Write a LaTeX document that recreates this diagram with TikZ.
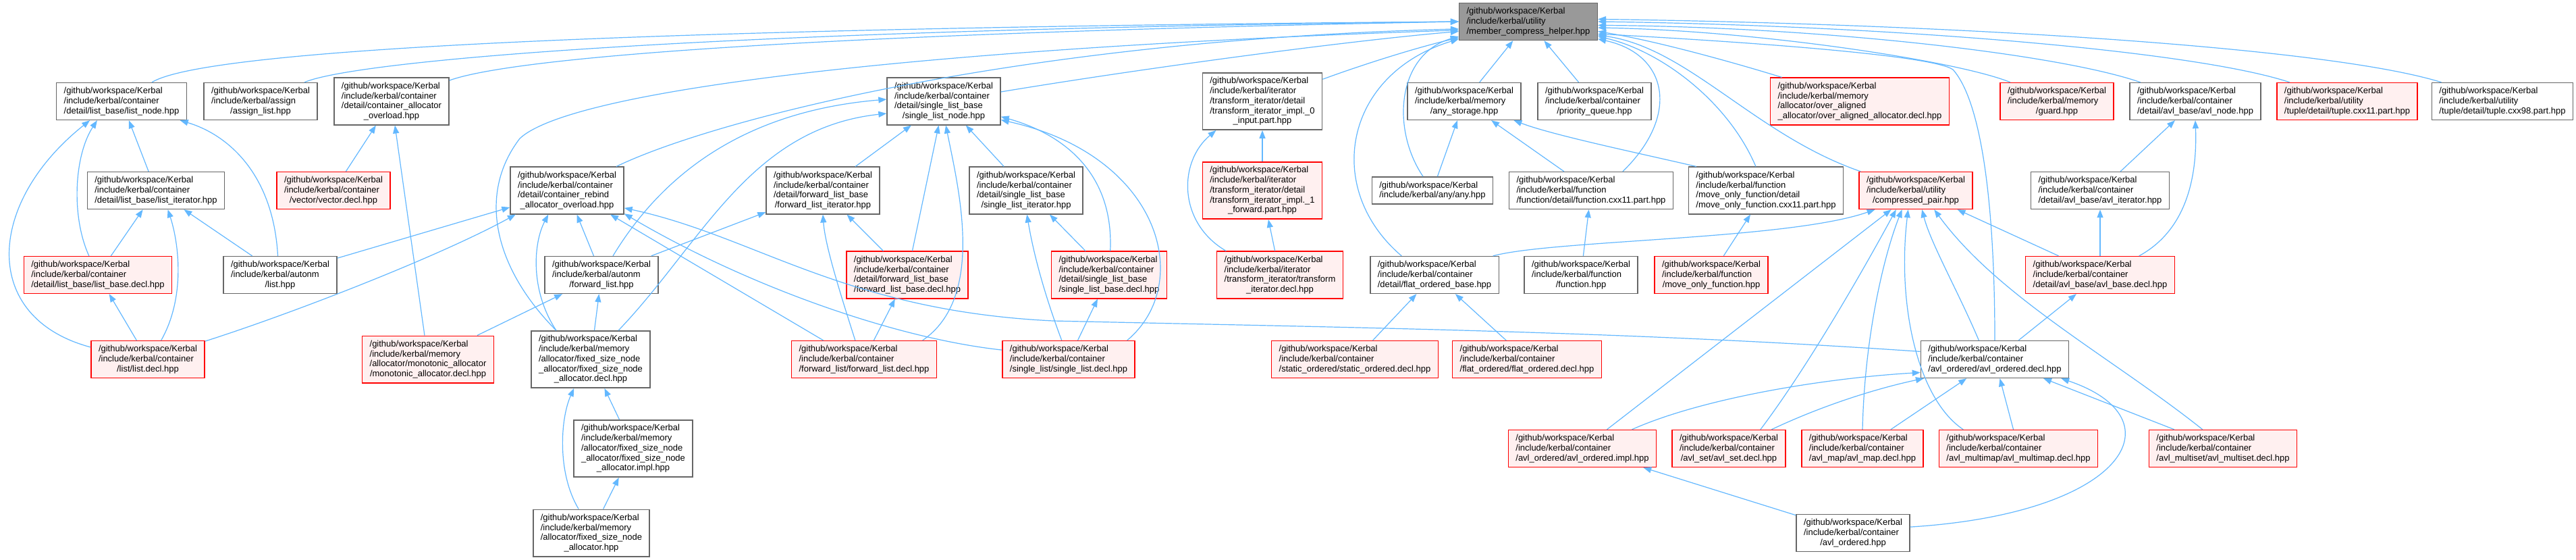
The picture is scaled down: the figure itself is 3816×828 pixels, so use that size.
\documentclass[tikz,border=0pt]{standalone}
\usepackage{fontspec}
\setmainfont{Liberation Sans}
\usepackage{tikz}
\usetikzlibrary{arrows.meta}
\definecolor{edgeblue}{HTML}{63B8FF}
\definecolor{boxgray}{HTML}{666666}
\definecolor{rootgray}{HTML}{999999}
\definecolor{truncfill}{HTML}{FFF0F0}
\newcommand{\lastln}[1]{\hfill#1\hfill\null}

\begin{document}
\begin{tikzpicture}[
        x=1pt, y=1pt,
        >={Triangle[length=12pt,width=9pt]},
        file/.style={
            rectangle,
            draw=boxgray,
            line width=1.4pt,
            fill=white,
            align=left,
            inner xsep=11pt,
            inner ysep=6.7pt,
            font=\fontsize{13}{14.7}\selectfont
        },
        trunc/.style={file, draw=red, fill=truncfill},
        root/.style={file, fill=rootgray},
        inc/.style={->, draw=edgeblue, line width=1.2pt}
    ]
        \path[use as bounding box, fill=white] (0,0) rectangle (3816,-828);

        \node[root] (helper) at (2264,-32) {/github/workspace/Kerbal\\/include/kerbal/utility\\\lastln{/member\_compress\_helper.hpp}};

        \node[file] (listnode) at (180,-150) {/github/workspace/Kerbal\\/include/kerbal/container\\\lastln{/detail/list\_base/list\_node.hpp}};
        \node[file] (assignlist) at (386,-150) {/github/workspace/Kerbal\\/include/kerbal/assign\\\lastln{/assign\_list.hpp}};
        \node[file] (allocoverload) at (580,-150) {/github/workspace/Kerbal\\/include/kerbal/container\\/detail/container\_allocator\\\lastln{\_overload.hpp}};
        \node[file] (slnode) at (1398,-150) {/github/workspace/Kerbal\\/include/kerbal/container\\/detail/single\_list\_base\\\lastln{/single\_list\_node.hpp}};
        \node[file] (tiinput) at (1870,-150) {/github/workspace/Kerbal\\/include/kerbal/iterator\\/transform\_iterator/detail\\/transform\_iterator\_impl.\_0\\\lastln{\_input.part.hpp}};
        \node[file] (anystorage) at (2169,-150) {/github/workspace/Kerbal\\/include/kerbal/memory\\\lastln{/any\_storage.hpp}};
        \node[file] (prioqueue) at (2362,-150) {/github/workspace/Kerbal\\/include/kerbal/container\\\lastln{/priority\_queue.hpp}};
        \node[trunc] (overaligned) at (2755,-150) {/github/workspace/Kerbal\\/include/kerbal/memory\\/allocator/over\_aligned\\\lastln{\_allocator/over\_aligned\_allocator.decl.hpp}};
        \node[trunc] (guard) at (3047,-150) {/github/workspace/Kerbal\\/include/kerbal/memory\\\lastln{/guard.hpp}};
        \node[file] (avlnode) at (3252,-150) {/github/workspace/Kerbal\\/include/kerbal/container\\\lastln{/detail/avl\_base/avl\_node.hpp}};
        \node[trunc] (tuple11) at (3477,-150) {/github/workspace/Kerbal\\/include/kerbal/utility\\\lastln{/tuple/detail/tuple.cxx11.part.hpp}};
        \node[file] (tuple98) at (3707,-150) {/github/workspace/Kerbal\\/include/kerbal/utility\\\lastln{/tuple/detail/tuple.cxx98.part.hpp}};

        \node[file] (listiter) at (231,-282) {/github/workspace/Kerbal\\/include/kerbal/container\\\lastln{/detail/list\_base/list\_iterator.hpp}};
        \node[trunc] (vectordecl) at (494,-282) {/github/workspace/Kerbal\\/include/kerbal/container\\\lastln{/vector/vector.decl.hpp}};
        \node[file] (rebind) at (840,-282) {/github/workspace/Kerbal\\/include/kerbal/container\\/detail/container\_rebind\\\lastln{\_allocator\_overload.hpp}};
        \node[file] (fliter) at (1219,-282) {/github/workspace/Kerbal\\/include/kerbal/container\\/detail/forward\_list\_base\\\lastln{/forward\_list\_iterator.hpp}};
        \node[file] (sliter) at (1520,-282) {/github/workspace/Kerbal\\/include/kerbal/container\\/detail/single\_list\_base\\\lastln{/single\_list\_iterator.hpp}};
        \node[trunc] (tiforward) at (1870,-282) {/github/workspace/Kerbal\\/include/kerbal/iterator\\/transform\_iterator/detail\\/transform\_iterator\_impl.\_1\\\lastln{\_forward.part.hpp}};
        \node[file] (any) at (2122,-282) {/github/workspace/Kerbal\\\lastln{/include/kerbal/any/any.hpp}};
        \node[file] (funccxx) at (2357,-282) {/github/workspace/Kerbal\\/include/kerbal/function\\\lastln{/function/detail/function.cxx11.part.hpp}};
        \node[file] (mofdetail) at (2616,-282) {/github/workspace/Kerbal\\/include/kerbal/function\\/move\_only\_function/detail\\\lastln{/move\_only\_function.cxx11.part.hpp}};
        \node[trunc] (cpair) at (2838,-282) {/github/workspace/Kerbal\\/include/kerbal/utility\\\lastln{/compressed\_pair.hpp}};
        \node[file] (avliter) at (3111,-282) {/github/workspace/Kerbal\\/include/kerbal/container\\\lastln{/detail/avl\_base/avl\_iterator.hpp}};

        \node[trunc] (listbase) at (145,-407) {/github/workspace/Kerbal\\/include/kerbal/container\\\lastln{/detail/list\_base/list\_base.decl.hpp}};
        \node[file] (autolist) at (415,-407) {/github/workspace/Kerbal\\/include/kerbal/autonm\\\lastln{/list.hpp}};
        \node[file] (autofl) at (891,-407) {/github/workspace/Kerbal\\/include/kerbal/autonm\\\lastln{/forward\_list.hpp}};
        \node[trunc] (flbase) at (1344,-407) {/github/workspace/Kerbal\\/include/kerbal/container\\/detail/forward\_list\_base\\\lastln{/forward\_list\_base.decl.hpp}};
        \node[trunc] (slbase) at (1643,-407) {/github/workspace/Kerbal\\/include/kerbal/container\\/detail/single\_list\_base\\\lastln{/single\_list\_base.decl.hpp}};
        \node[trunc] (tidecl) at (1896,-407) {/github/workspace/Kerbal\\/include/kerbal/iterator\\/transform\_iterator/transform\\\lastln{\_iterator.decl.hpp}};
        \node[file] (flatbase) at (2125,-407) {/github/workspace/Kerbal\\/include/kerbal/container\\\lastln{/detail/flat\_ordered\_base.hpp}};
        \node[file] (function) at (2342,-407) {/github/workspace/Kerbal\\/include/kerbal/function\\\lastln{/function.hpp}};
        \node[trunc] (mof) at (2535,-407) {/github/workspace/Kerbal\\/include/kerbal/function\\\lastln{/move\_only\_function.hpp}};
        \node[trunc] (avlbase) at (3111,-407) {/github/workspace/Kerbal\\/include/kerbal/container\\\lastln{/detail/avl\_base/avl\_base.decl.hpp}};

        \node[trunc] (listdecl) at (219,-532) {/github/workspace/Kerbal\\/include/kerbal/container\\\lastln{/list/list.decl.hpp}};
        \node[trunc] (monotonic) at (634,-532) {/github/workspace/Kerbal\\/include/kerbal/memory\\/allocator/monotonic\_allocator\\\lastln{/monotonic\_allocator.decl.hpp}};
        \node[file] (fsndecl) at (875,-532) {/github/workspace/Kerbal\\/include/kerbal/memory\\/allocator/fixed\_size\_node\\\_allocator/fixed\_size\_node\\\lastln{\_allocator.decl.hpp}};
        \node[trunc] (fldecl) at (1280,-532) {/github/workspace/Kerbal\\/include/kerbal/container\\\lastln{/forward\_list/forward\_list.decl.hpp}};
        \node[trunc] (sldecl) at (1583,-532) {/github/workspace/Kerbal\\/include/kerbal/container\\\lastln{/single\_list/single\_list.decl.hpp}};
        \node[trunc] (staticord) at (2007,-532) {/github/workspace/Kerbal\\/include/kerbal/container\\\lastln{/static\_ordered/static\_ordered.decl.hpp}};
        \node[trunc] (flatord) at (2262,-532) {/github/workspace/Kerbal\\/include/kerbal/container\\\lastln{/flat\_ordered/flat\_ordered.decl.hpp}};
        \node[file] (avlorddecl) at (2955,-532) {/github/workspace/Kerbal\\/include/kerbal/container\\\lastln{/avl\_ordered/avl\_ordered.decl.hpp}};

        \node[file] (fsnimpl) at (938,-664) {/github/workspace/Kerbal\\/include/kerbal/memory\\/allocator/fixed\_size\_node\\\_allocator/fixed\_size\_node\\\lastln{\_allocator.impl.hpp}};
        \node[trunc] (avlimpl) at (2344,-664) {/github/workspace/Kerbal\\/include/kerbal/container\\\lastln{/avl\_ordered/avl\_ordered.impl.hpp}};
        \node[trunc] (avlset) at (2561,-664) {/github/workspace/Kerbal\\/include/kerbal/container\\\lastln{/avl\_set/avl\_set.decl.hpp}};
        \node[trunc] (avlmap) at (2759,-664) {/github/workspace/Kerbal\\/include/kerbal/container\\\lastln{/avl\_map/avl\_map.decl.hpp}};
        \node[trunc] (avlmultimap) at (2990,-664) {/github/workspace/Kerbal\\/include/kerbal/container\\\lastln{/avl\_multimap/avl\_multimap.decl.hpp}};
        \node[trunc] (avlmultiset) at (3293,-664) {/github/workspace/Kerbal\\/include/kerbal/container\\\lastln{/avl\_multiset/avl\_multiset.decl.hpp}};

        \node[file] (fsnalloc) at (876,-789) {/github/workspace/Kerbal\\/include/kerbal/memory\\/allocator/fixed\_size\_node\\\lastln{\_allocator.hpp}};
        \node[file] (avlordered) at (2745,-789) {/github/workspace/Kerbal\\/include/kerbal/container\\\lastln{/avl\_ordered.hpp}};

        % into member_compress_helper
        \draw[inc] (listnode) .. controls (300,-75) and (900,-42) .. (helper.west);
        \draw[inc] (assignlist) .. controls (520,-92) and (1000,-45) .. (helper.west);
        \draw[inc] (allocoverload) .. controls (760,-85) and (1200,-50) .. (helper.west);
        \draw[inc] (rebind) .. controls (1050,-180) and (1500,-60) .. (helper.186);
        \draw[inc] (fsndecl.140) .. controls (735,-400) and (705,-290) .. (770,-205) .. controls (850,-130) and (1400,-70) .. (helper.187);
        \draw[inc] (slnode) .. controls (1700,-100) and (2000,-60) .. (helper.188);
        \draw[inc] (tiinput) .. controls (2020,-95) and (2100,-70) .. (helper.193);
        \draw[inc] (anystorage) -- (helper);
        \draw[inc] (prioqueue) -- (helper);
        \draw[inc] (any) .. controls (2060,-190) and (2070,-80) .. (helper.192);
        \draw[inc] (flatbase.150) .. controls (1960,-280) and (1990,-110) .. (helper.194);
        \draw[inc] (funccxx.31) .. controls (2490,-170) and (2470,-80) .. (helper.346);
        \draw[inc] (mofdetail) .. controls (2560,-150) and (2460,-75) .. (helper.348);
        \draw[inc] (cpair) .. controls (2600,-200) and (2500,-70) .. (helper.349);
        \draw[inc] (overaligned) .. controls (2560,-90) and (2450,-60) .. (helper.352);
        \draw[inc] (guard) .. controls (2900,-90) and (2600,-45) .. (helper.355);
        \draw[inc] (avlnode) .. controls (3050,-80) and (2700,-40) .. (helper.357);
        \draw[inc] (tuple11) .. controls (3250,-75) and (2800,-38) .. (helper.east);
        \draw[inc] (tuple98) .. controls (3450,-70) and (2900,-36) .. (helper.2);
        \draw[inc] (avlorddecl.north) .. controls (2955,-300) and (2935,-150) .. (2893,-103) .. controls (2860,-80) and (2550,-60) .. (helper.350);

        % single list node
        \draw[inc] (autofl) .. controls (980,-260) and (1100,-165) .. (slnode.178);
        \draw[inc] (fsndecl) .. controls (1040,-360) and (1110,-190) .. (slnode.192);
        \draw[inc] (fliter) -- (slnode);
        \draw[inc] (flbase) -- (slnode);
        \draw[inc] (fldecl.18) .. controls (1460,-440) and (1420,-280) .. (slnode.275);
        \draw[inc] (sliter) -- (slnode);
        \draw[inc] (slbase) .. controls (1650,-260) and (1580,-200) .. (slnode.345);
        \draw[inc] (sldecl.18) .. controls (1770,-420) and (1720,-230) .. (slnode.342);

        \draw[inc] (autofl) -- (fliter);
        \draw[inc] (fldecl.115) .. controls (1240,-420) and (1222,-360) .. (fliter.south);
        \draw[inc] (flbase) -- (fliter);
        \draw[inc] (sldecl.110) .. controls (1545,-430) and (1530,-370) .. (sliter.272);
        \draw[inc] (slbase) -- (sliter);
        \draw[inc] (fldecl) -- (flbase);
        \draw[inc] (sldecl) -- (slbase);

        % container rebind
        \draw[inc] (autolist) -- (rebind);
        \draw[inc] (listdecl) .. controls (430,-465) and (650,-380) .. (rebind.205);
        \draw[inc] (fsndecl.140) .. controls (785,-430) and (790,-360) .. (rebind.232);
        \draw[inc] (autofl) -- (rebind);
        \draw[inc] (fldecl.155) -- (rebind.331);
        \draw[inc] (sldecl.172) .. controls (1320,-500) and (1100,-420) .. (rebind.338);
        \draw[inc] (avlorddecl.174) .. controls (2400,-490) and (2000,-485) .. (1560,-475) .. controls (1250,-460) and (1120,-350) .. (rebind.343);

        % list
        \draw[inc] (listiter) -- (listnode);
        \draw[inc] (listbase.115) .. controls (105,-320) and (110,-230) .. (listnode.218);
        \draw[inc] (listdecl.168) .. controls (-30,-470) and (-20,-300) .. (listnode.211);
        \draw[inc] (autolist.97) .. controls (405,-260) and (340,-200) .. (listnode.342);
        \draw[inc] (listbase) -- (listiter);
        \draw[inc] (listdecl.55) .. controls (275,-440) and (265,-360) .. (listiter.302);
        \draw[inc] (autolist) -- (listiter);
        \draw[inc] (listdecl) -- (listbase);

        % allocators
        \draw[inc] (vectordecl) -- (allocoverload);
        \draw[inc] (monotonic) -- (allocoverload);
        \draw[inc] (monotonic) -- (autofl);
        \draw[inc] (fsndecl) -- (autofl);
        \draw[inc] (fsnimpl) -- (fsndecl);
        \draw[inc] (fsnalloc.118) .. controls (825,-700) and (830,-620) .. (fsndecl.240);
        \draw[inc] (fsnalloc) -- (fsnimpl);

        % transform iterator
        \draw[inc] (tiforward) -- (tiinput);
        \draw[inc] (tidecl) -- (tiforward);
        \draw[inc] (tidecl.156) .. controls (1745,-330) and (1745,-240) .. (tiinput.212);

        % any and function
        \draw[inc] (any) -- (anystorage);
        \draw[inc] (funccxx) -- (anystorage);
        \draw[inc] (mofdetail.161) .. controls (2420,-225) and (2300,-200) .. (anystorage.339);
        \draw[inc] (function) -- (funccxx);
        \draw[inc] (mof) -- (mofdetail);

        % flat ordered
        \draw[inc] (staticord) -- (flatbase);
        \draw[inc] (flatord) -- (flatbase);
        \draw[inc] (flatbase.18) .. controls (2300,-355) and (2650,-355) .. (cpair.205);

        % compressed pair
        \draw[inc] (avlimpl) -- (cpair);
        \draw[inc] (avlset.31) .. controls (2680,-540) and (2760,-400) .. (cpair.224);
        \draw[inc] (avlmap.north) .. controls (2762,-500) and (2790,-380) .. (cpair.234);
        \draw[inc] (avlmultimap.161) .. controls (2840,-590) and (2810,-450) .. (cpair.248);
        \draw[inc] (avlmultiset.137) .. controls (3130,-530) and (2960,-440) .. (cpair.314);
        \draw[inc] (avlorddecl.130) .. controls (2900,-430) and (2860,-360) .. (cpair.288);
        \draw[inc] (avlbase) -- (cpair);

        % avl
        \draw[inc] (avliter) -- (avlnode);
        \draw[inc] (avlbase.26) .. controls (3240,-340) and (3255,-260) .. (avlnode.south);
        \draw[inc] (avlbase) -- (avliter);
        \draw[inc] (avlorddecl) -- (avlbase);
        \draw[inc] (avlimpl.21) .. controls (2520,-590) and (2700,-560) .. (avlorddecl.190);
        \draw[inc] (avlset.24) .. controls (2700,-600) and (2780,-575) .. (avlorddecl.195);
        \draw[inc] (avlmap) -- (avlorddecl);
        \draw[inc] (avlmultimap) -- (avlorddecl);
        \draw[inc] (avlmultiset) -- (avlorddecl);
        \draw[inc] (avlordered.6) .. controls (3150,-760) and (3230,-620) .. (avlorddecl.344);
        \draw[inc] (avlordered) -- (avlimpl);
    \end{tikzpicture}
\end{document}
